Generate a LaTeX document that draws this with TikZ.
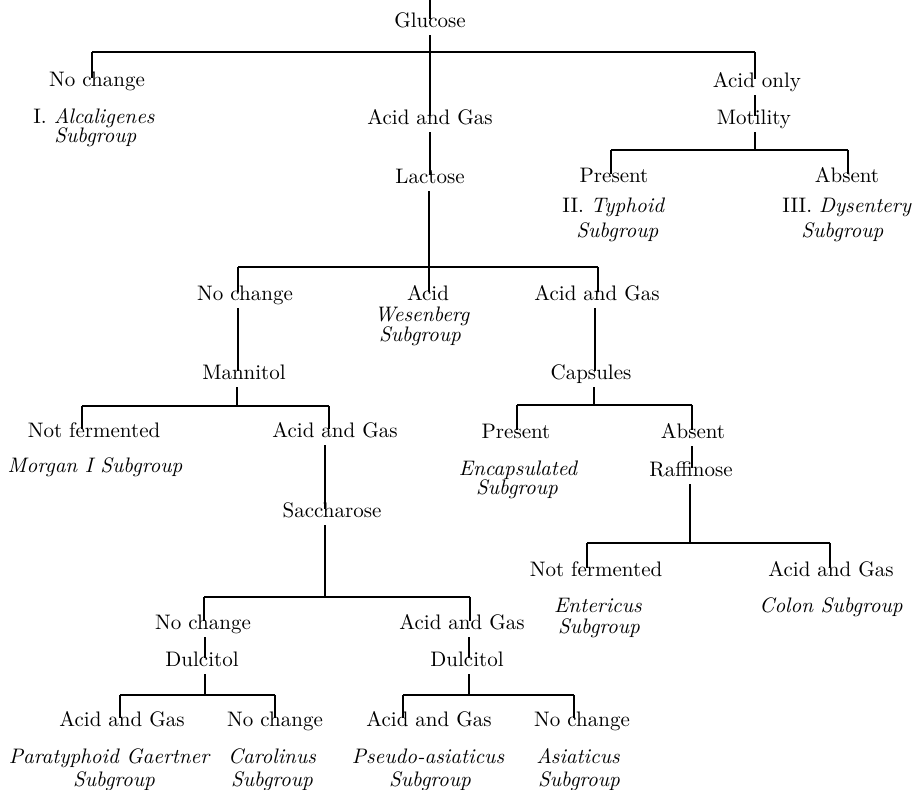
\documentclass[tikz,border=0pt]{standalone}
\begin{document}
\begin{tikzpicture}[x=0.5pt,y=-0.5pt,
  lbl/.style={inner sep=0pt,text height=1ex,text depth=3.5pt,anchor=base,font=\fontsize{10.5}{12.5}\selectfont},
  note/.style={inner sep=0pt,anchor=base,font=\fontsize{10.5}{12.5}\selectfont\itshape},
  notew/.style={inner sep=0pt,anchor=base west,font=\fontsize{10.5}{12.5}\selectfont},
  ln/.style={line width=0.75pt}]
\useasboundingbox (0,0) rectangle (917,790);
% ---- level 0
\coordinate (top) at (430,0);
\node[lbl] (glu) at (430,28) {Glucose};
\draw[ln] (top) -- (glu.north);
% bar 1
\coordinate (b1l) at (92,52); \coordinate (b1r) at (755,52); \coordinate (b1c) at (430,52);
\draw[ln] (b1l) -- (b1r);
\draw[ln] (glu.south) -- (b1c);
\node[lbl] (nc1) at (97,87) {No change};
\draw[ln] (b1l) -- (nc1.north -| b1l);
\node[notew] (alc) at (33,124) {I.\ \textit{Alcaligenes}};
\node[notew] (alcs) at (54,143) {\textit{Subgroup}};
\node[lbl] (ag1) at (430,125) {Acid and Gas};
\draw[ln] (b1c) -- (ag1.north);
\node[lbl] (lac) at (430,184) {Lactose};
\draw[ln] (ag1.south) -- (lac.north);
\node[lbl] (ao) at (757,88) {Acid only};
\draw[ln] (b1r) -- (ao.north -| b1r);
\node[lbl] (mot) at (754,125) {Motility};
\draw[ln] (ao.south -| b1r) -- (mot.north -| b1r);
% bar 2
\coordinate (b2l) at (611,150); \coordinate (b2r) at (848,150); \coordinate (b2c) at (755,150);
\draw[ln] (b2l) -- (b2r);
\draw[ln] (mot.south -| b2c) -- (b2c);
\node[lbl] (pr1) at (614,183) {Present};
\draw[ln] (b2l) -- (pr1.north -| b2l);
\node[lbl] (ab1) at (847,183) {Absent};
\draw[ln] (b2r) -- (ab1.north -| b2r);
\node[notew] (typ) at (562,213) {II.\ \textit{Typhoid}};
\node[notew] (typs) at (576,238) {\textit{Subgroup}};
\node[notew] (dys) at (782,213) {III.\ \textit{Dysentery}};
\node[notew] (dyss) at (801,238) {\textit{Subgroup}};
% bar 3
\coordinate (b3l) at (238,267); \coordinate (b3r) at (598,267); \coordinate (b3c) at (429,267);
\draw[ln] (b3l) -- (b3r);
\draw[ln] (lac.south -| b3c) -- (b3c);
\node[lbl] (nc2) at (245,301) {No change};
\draw[ln] (b3l) -- (nc2.north -| b3l);
\node[lbl] (acid) at (428,301) {Acid};
\draw[ln] (b3c) -- (acid.north -| b3c);
\node[note] (wes) at (422,322) {Wesenberg};
\node[note] (wess) at (420,342) {Subgroup};
\node[lbl] (ag2) at (597,301) {Acid and Gas};
\draw[ln] (b3r) -- (ag2.north -| b3r);
\node[lbl] (man) at (244,380) {Mannitol};
\draw[ln] (nc2.south -| b3l) -- (man.north -| b3l);
\node[lbl] (cap) at (591,380) {Capsules};
\draw[ln] (ag2.south -| 595,0) -- (cap.north -| 595,0);
% bar 4
\coordinate (b4l) at (82,406); \coordinate (b4r) at (329,406); \coordinate (b4c) at (237,406);
\draw[ln] (b4l) -- (b4r);
\draw[ln] (man.south -| b4c) -- (b4c);
\node[lbl] (nf1) at (94,438) {Not fermented};
\draw[ln] (b4l) -- (nf1.north -| b4l);
\node[lbl] (ag3) at (335,438) {Acid and Gas};
\draw[ln] (b4r) -- (ag3.north -| b4r);
\node[note] (mor) at (95,473) {Morgan I Subgroup};
\node[lbl] (sac) at (332,518) {Saccharose};
\coordinate (b5c) at (325,597);
\draw[ln] (ag3.south -| b5c) -- (sac.north -| b5c);
% bar 5
\coordinate (b5l) at (204,597); \coordinate (b5r) at (470,597);
\draw[ln] (b5l) -- (b5r);
\draw[ln] (sac.south -| b5c) -- (b5c);
\node[lbl] (nc3) at (203,630) {No change};
\draw[ln] (b5l) -- (nc3.north -| b5l);
\node[lbl] (ag4) at (462,630) {Acid and Gas};
\draw[ln] (b5r) -- (ag4.north -| b5r);
\node[lbl] (dul1) at (202,667) {Dulcitol};
\coordinate (b6c) at (205,695);
\draw[ln] (nc3.south -| b6c) -- (dul1.north -| b6c);
\node[lbl] (dul2) at (467,667) {Dulcitol};
\coordinate (b7c) at (469,695);
\draw[ln] (ag4.south -| b7c) -- (dul2.north -| b7c);
% bar 6
\coordinate (b6l) at (120,695); \coordinate (b6r) at (275,695);
\draw[ln] (b6l) -- (b6r);
\draw[ln] (dul1.south -| b6c) -- (b6c);
\node[lbl] (ag5) at (122,727) {Acid and Gas};
\draw[ln] (b6l) -- (ag5.north -| b6l);
\node[lbl] (nc4) at (275,727) {No change};
\draw[ln] (b6r) -- (nc4.north -| b6r);
\node[note] (par) at (109,764) {Paratyphoid Gaertner};
\node[note] (pars) at (114,787) {Subgroup};
\node[note] (car) at (272,764) {Carolinus};
\node[note] (cars) at (272,787) {Subgroup};
% bar 7
\coordinate (b7l) at (403,695); \coordinate (b7r) at (574,695);
\draw[ln] (b7l) -- (b7r);
\draw[ln] (dul2.south -| b7c) -- (b7c);
\node[lbl] (ag6) at (429,727) {Acid and Gas};
\draw[ln] (b7l) -- (ag6.north -| b7l);
\node[lbl] (nc5) at (582,727) {No change};
\draw[ln] (b7r) -- (nc5.north -| b7r);
\node[note] (pse) at (428,764) {Pseudo-asiaticus};
\node[note] (pses) at (430,787) {Subgroup};
\node[note] (asi) at (578,764) {Asiaticus};
\node[note] (asis) at (579,787) {Subgroup};
% bar 8
\coordinate (b8l) at (517,405); \coordinate (b8r) at (692,405); \coordinate (b8c) at (594,405);
\draw[ln] (b8l) -- (b8r);
\draw[ln] (cap.south -| b8c) -- (b8c);
\node[lbl] (pr2) at (516,439) {Present};
\draw[ln] (b8l) -- (pr2.north -| b8l);
\node[lbl] (ab2) at (693,439) {Absent};
\draw[ln] (b8r) -- (ab2.north -| b8r);
\node[note] (enc) at (518,476) {Encapsulated};
\node[note] (encs) at (517,495) {Subgroup};
\node[lbl] (raf) at (691,477) {Raffinose};
\draw[ln] (ab2.south -| b8r) -- (raf.north -| b8r);
% bar 9
\coordinate (b9l) at (587,543); \coordinate (b9r) at (830,543); \coordinate (b9c) at (690,543);
\draw[ln] (b9l) -- (b9r);
\draw[ln] (raf.south -| b9c) -- (b9c);
\node[lbl] (nf2) at (596,577) {Not fermented};
\draw[ln] (b9l) -- (nf2.north -| b9l);
\node[lbl] (ag7) at (831,577) {Acid and Gas};
\draw[ln] (b9r) -- (ag7.north -| b9r);
\node[note] (ent) at (598,613) {Entericus};
\node[note] (ents) at (599,634) {Subgroup};
\node[note] (col) at (831,613) {Colon Subgroup};
\end{tikzpicture}
\end{document}
